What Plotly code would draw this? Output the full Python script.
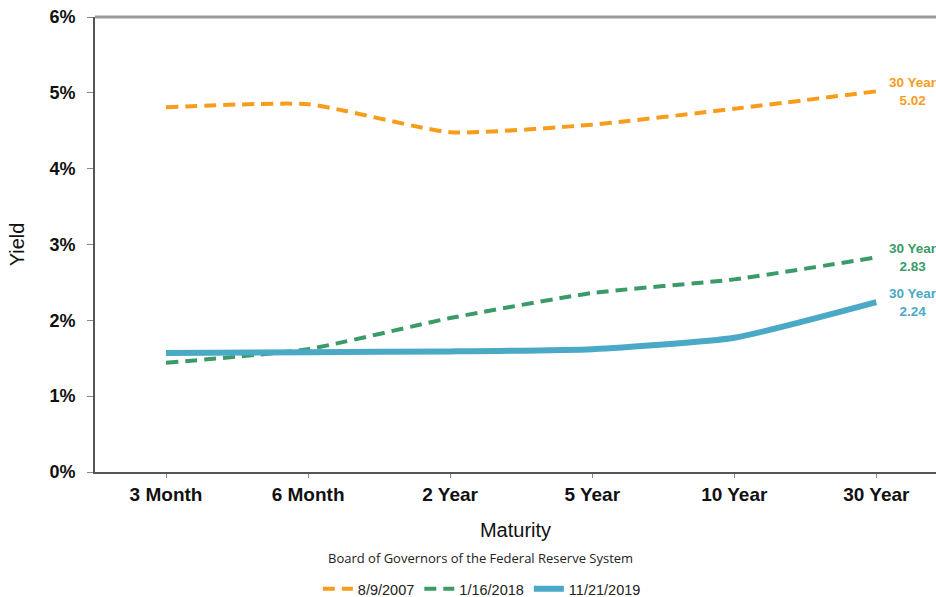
import plotly.graph_objects as go

maturities = ["3 Month", "6 Month", "2 Year", "5 Year", "10 Year", "30 Year"]
y2007 = [4.81, 4.85, 4.48, 4.58, 4.79, 5.02]
y2018 = [1.44, 1.62, 2.03, 2.36, 2.54, 2.83]
y2019 = [1.57, 1.58, 1.59, 1.62, 1.77, 2.24]
series_names = ["8/9/2007", "1/16/2018", "11/21/2019"]
colors = ["#F89C1C", "#3A9A68", "#4AA9C6"]
ytick_vals = [0, 1, 2, 3, 4, 5, 6]
ytick_text = ["0%", "1%", "2%", "3%", "4%", "5%", "6%"]

fig = go.Figure()
series = [y2007, y2018, y2019]
styles = [dict(width=4, dash="12px,7px"), dict(width=4, dash="12px,7px"), dict(width=6, dash="solid")]
for name, vals, col, st in zip(series_names, series, colors, styles):
    fig.add_trace(go.Scatter(
        x=maturities, y=vals, name=name, mode="lines",
        line=dict(color=col, width=st["width"], dash=st["dash"], shape="spline", smoothing=0.5),
        cliponaxis=False,
    ))

for vals, col in zip(series, colors):
    fig.add_annotation(
        x=maturities[-1], y=vals[-1], xref="x", yref="y",
        text=f"30 Year<br>{vals[-1]:.2f}", showarrow=False,
        xshift=37, yshift=0, align="center",
        font=dict(family="Liberation Sans, Arial", size=13.5, color=col, weight="bold"),
    )

fig.add_annotation(
    x=0.458, y=-0.189, xref="paper", yref="paper",
    text="Board of Governors of the Federal Reserve System", showarrow=False,
    font=dict(family="Open Sans, Noto Sans", size=13, color="#222222"),
    xanchor="center", yanchor="middle",
)

fig.update_layout(
    width=936, height=597,
    margin=dict(l=95, r=0, t=17, b=125, autoexpand=False),
    plot_bgcolor="white", paper_bgcolor="white",
    showlegend=True,
    legend=dict(orientation="h", x=0.46, y=-0.257, xanchor="center", yanchor="middle",
                font=dict(family="Liberation Sans, Arial", size=14.5, color="#222222"),
                itemwidth=30, tracegroupgap=0),
    xaxis=dict(
        range=[-0.5, 5.42],
        showline=True, linecolor="#555555", linewidth=2, mirror=False,
        ticks="outside", ticklen=4, tickcolor="#888888",
        showgrid=False, zeroline=False,
        tickfont=dict(family="Liberation Sans, Arial", size=19, color="#111111", weight="bold"),
        title=dict(text="Maturity", font=dict(family="Liberation Sans, Arial", size=20, color="#111111"), standoff=19),
    ),
    yaxis=dict(
        range=[0, 6], tickmode="array", tickvals=ytick_vals, ticktext=ytick_text,
        showline=True, linecolor="#555555", linewidth=2,
        ticks="outside", ticklen=6, tickcolor="#888888", ticklabelstandoff=8,
        showgrid=False, zeroline=False,
        tickfont=dict(family="Liberation Sans, Arial", size=18, color="#111111", weight="bold"),
        title=dict(text="Yield", font=dict(family="Liberation Sans, Arial", size=20, color="#111111"), standoff=19),
    ),
)
fig.add_shape(type="line", xref="paper", yref="paper", x0=0, x1=1, y0=1, y1=1,
              line=dict(color="#9a9a9a", width=3))

fig.write_html("out.html")
